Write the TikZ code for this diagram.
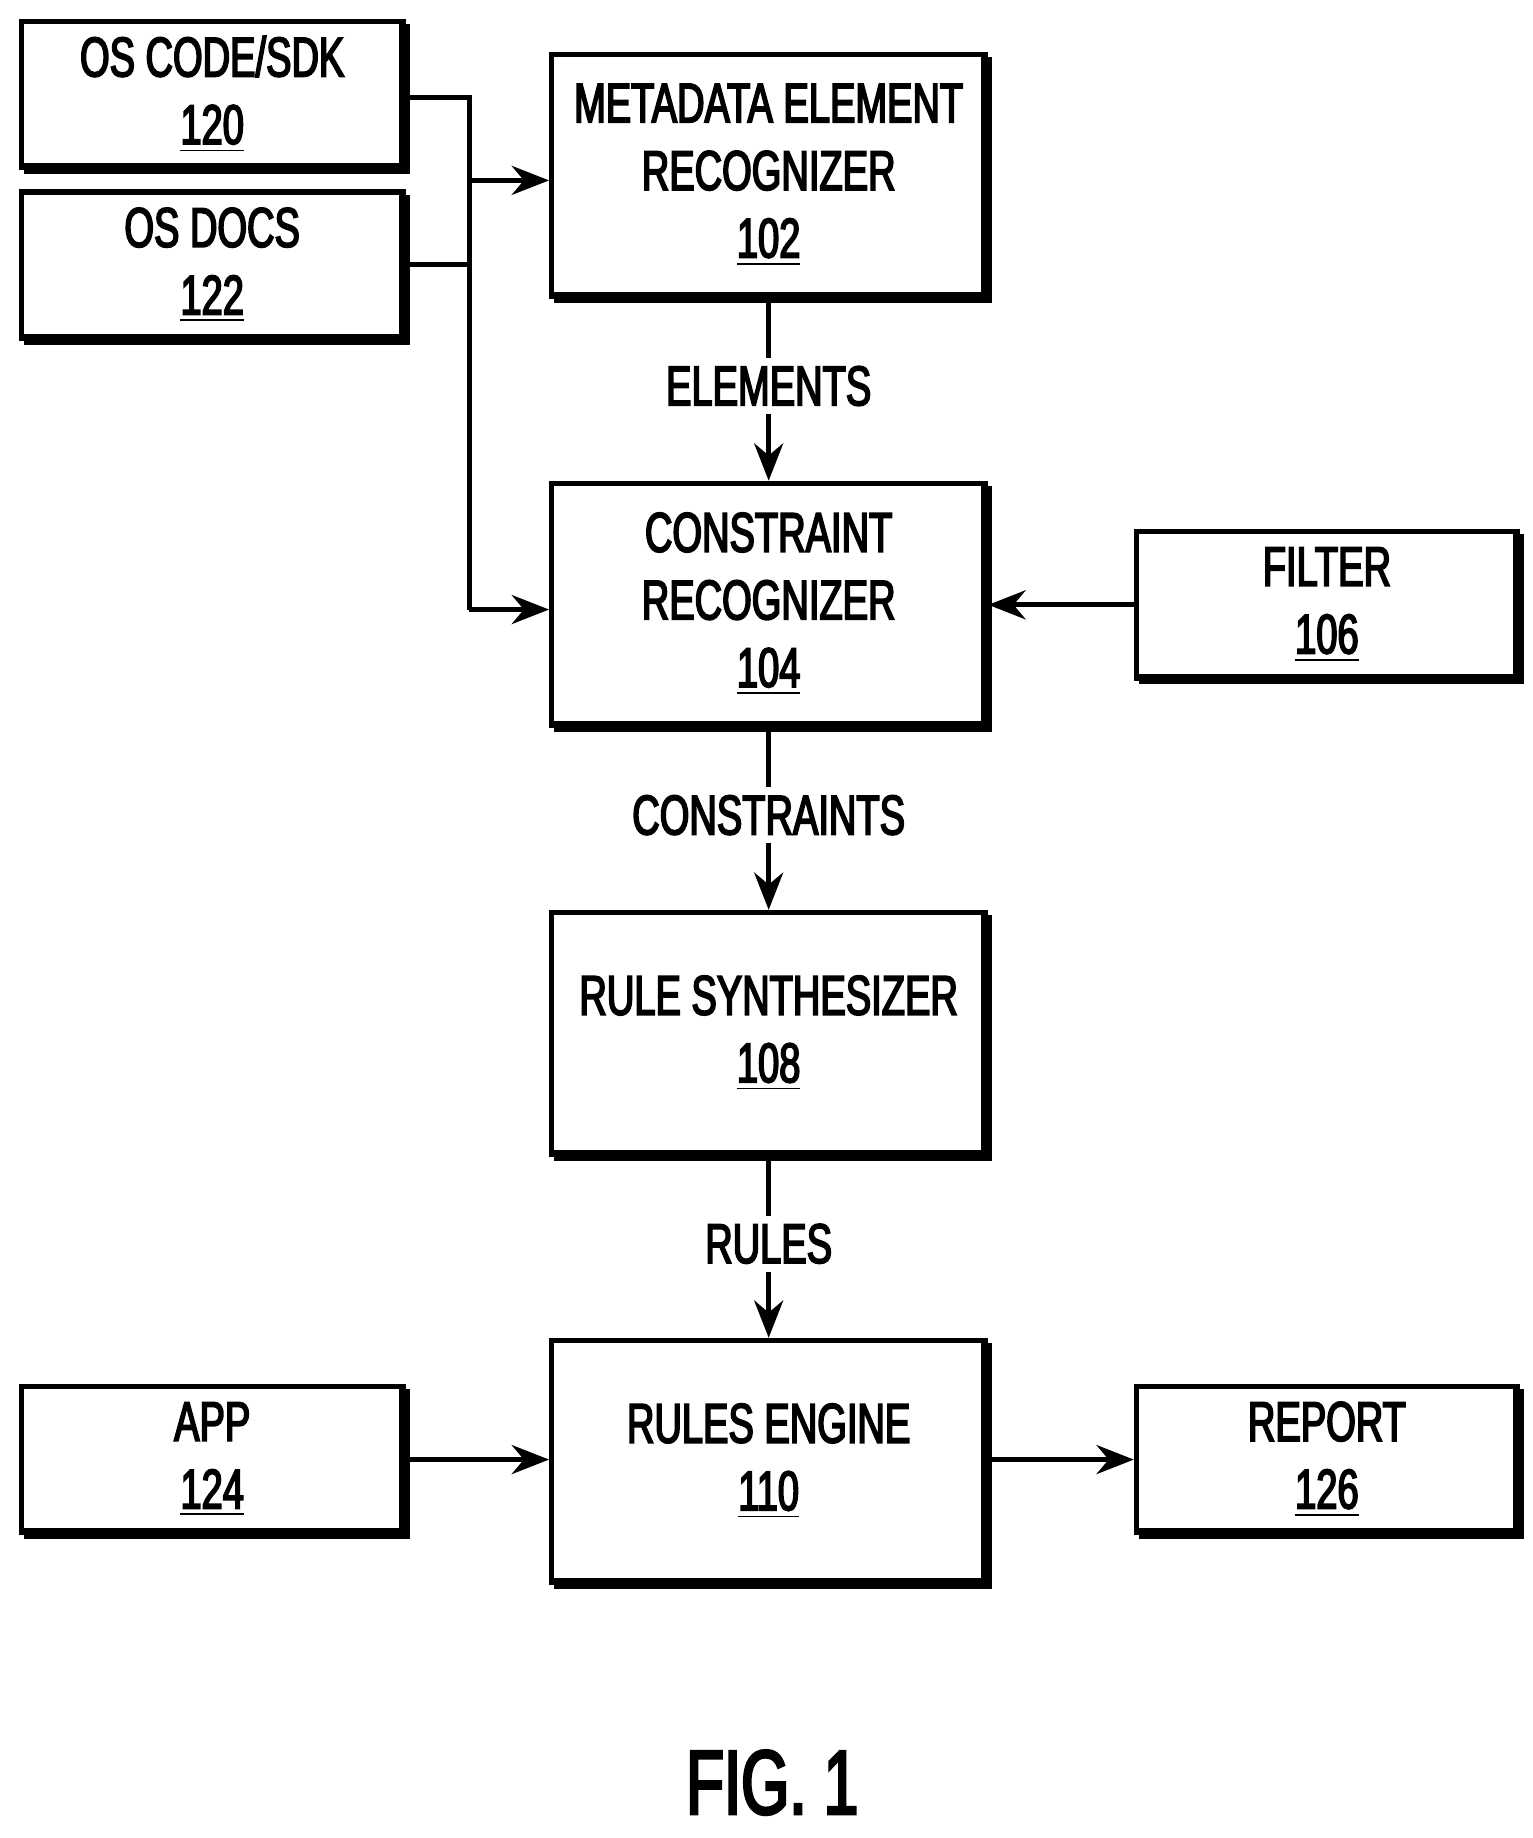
\documentclass[tikz,border=0pt]{standalone}
\usepackage{fontspec}
\setmainfont{Liberation Sans}[FakeStretch=0.68,FakeBold=3]
\usetikzlibrary{arrows.meta}
\begin{document}
\begin{tikzpicture}[x=0.01cm,y=-0.01cm,
  box/.style={draw,line width=1.3pt,inner sep=0pt,align=center,font=\fontsize{13.5}{16.3}\selectfont},
  sh/.style={line width=2.6pt},
  arr/.style={line width=1.2pt,-{Stealth[length=9pt,width=7pt]}},
  lab/.style={font=\fontsize{13.5}{16}\selectfont,fill=white,inner sep=2pt}]
\useasboundingbox (0,0) rectangle (1300,1559);
\newcommand{\bx}[6]{%
  \node[box,minimum width={(#4-#2)*0.01cm},minimum height={(#5-#3)*0.01cm}] (#1) at ({(#2+#4)/2},{(#3+#5)/2}) {#6};
  \draw[sh] (#2+2,#5+1) -- (#4+1,#5+1) -- (#4+1,#3+2);}
\bx{os}{18}{18}{342}{142}{OS CODE/SDK\\\underline{120}}
\bx{docs}{18}{163}{342}{287}{OS DOCS\\\underline{122}}
\bx{mer}{468}{46}{836}{251}{METADATA ELEMENT\\RECOGNIZER\\\underline{102}}
\bx{cr}{468}{410}{836}{615}{CONSTRAINT\\RECOGNIZER\\\underline{104}}
\bx{filt}{964}{451}{1287}{575}{FILTER\\\underline{106}}
\bx{rs}{468}{774}{836}{979}{RULE SYNTHESIZER\\\underline{108}}
\bx{re}{468}{1137}{836}{1342}{RULES ENGINE\\\underline{110}}
\bx{app}{18}{1176}{342}{1300}{APP\\\underline{124}}
\bx{rep}{964}{1176}{1287}{1300}{REPORT\\\underline{126}}
\coordinate (j1) at (398,83);
\coordinate (j2) at (398,153);
\coordinate (j3) at (398,224);
\coordinate (j4) at (398,517);
\draw[line width=1.2pt] (os.east|-j1) -- (j1) -- (j4);
\draw[line width=1.2pt] (docs.east|-j3) -- (j3);
\draw[arr] (j2) -- (mer.west|-j2);
\draw[arr] (j4) -- (cr.west|-j4);
\draw[arr] (filt.west) -- (cr.east|-filt.west);
\draw[arr] (app.east) -- (re.west|-app.east);
\draw[arr] (re.east|-rep.west) -- (rep.west);
\draw[arr] (mer.south) -- node[lab,pos=0.48]{ELEMENTS} (cr.north);
\draw[arr] (cr.south) -- node[lab,pos=0.48]{CONSTRAINTS} (rs.north);
\draw[arr] (rs.south) -- node[lab,pos=0.48]{RULES} (re.north);
\node[font=\fontsize{22}{25}\selectfont] (fig) at (655,1512) {FIG. 1};
\end{tikzpicture}
\end{document}
